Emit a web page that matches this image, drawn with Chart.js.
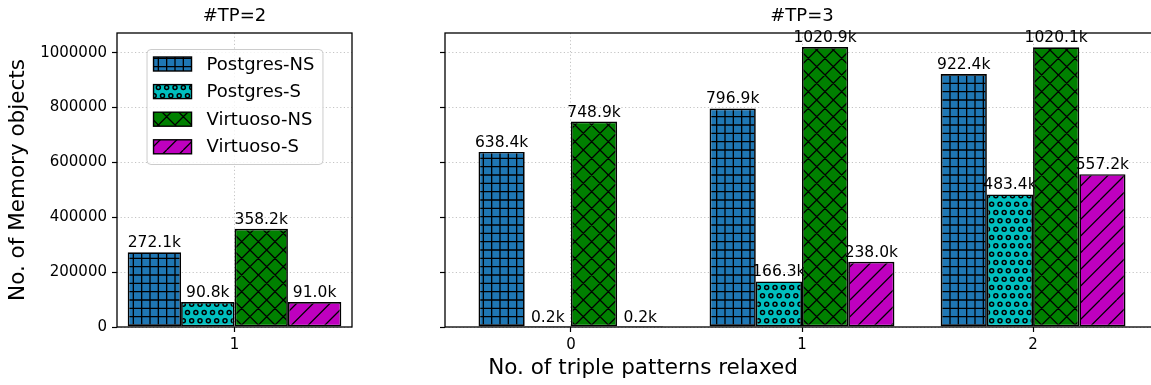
<!DOCTYPE html>
<html>
<head>
<meta charset="utf-8">
<script src="https://cdn.jsdelivr.net/npm/chart.js@4.4.1/dist/chart.umd.min.js"></script>
<style>
  body { margin: 0; background: #fff; overflow: hidden; }
  #wrap { position: relative; width: 1151px; height: 385px; overflow: hidden; }
  canvas { position: absolute; top: 0; }
  #xlab { position: absolute; left: 443px; width: 400px; top: 355px; text-align: center;
          font: 21.5px "DejaVu Sans"; line-height: 24px; color: #000; }
</style>
</head>
<body>
<div id="wrap">
  <canvas id="tp2" width="360" height="385" style="left:0"></canvas>
  <canvas id="tp3" width="765" height="385" style="left:400px"></canvas>
  <div id="xlab">No. of triple patterns relaxed</div>
</div>
<script>
// data
const seriesNames = ['Postgres-NS', 'Postgres-S', 'Virtuoso-NS', 'Virtuoso-S'];
const seriesColors = ['#1f77b4', '#00bfbf', '#008000', '#bf00bf'];
const seriesHatch = ['grid', 'dots', 'cross', 'slash'];

const tp2Groups = [1];
const tp2PgNS = [272100];
const tp2PgS = [90800];
const tp2VtNS = [358200];
const tp2VtS = [91000];

const tp3Groups = [0, 1, 2];
const tp3PgNS = [638400, 796900, 922400];
const tp3PgS = [200, 166300, 483400];
const tp3VtNS = [748900, 1020900, 1020100];
const tp3VtS = [200, 238000, 557200];

const yTicks = [0, 200000, 400000, 600000, 800000, 1000000];
const yMax = 1071900;

Chart.defaults.font.family = '"DejaVu Sans"';
Chart.defaults.color = '#000';

function makePattern(color, kind) {
  const s = 50;
  const c = document.createElement('canvas');
  c.width = s; c.height = s;
  const g = c.getContext('2d');
  g.fillStyle = color;
  g.fillRect(0, 0, s, s);
  g.strokeStyle = '#000';
  g.lineWidth = 1.3;
  g.beginPath();
  if (kind === 'grid') {
    const p = s / 6;
    for (let i = 0; i <= 6; i++) {
      g.moveTo(i * p, 0); g.lineTo(i * p, s);
      g.moveTo(0, i * p); g.lineTo(s, i * p);
    }
    g.stroke();
  } else if (kind === 'dots') {
    const p = s / 6;
    g.lineWidth = 1.5;
    for (let j = 0; j < 6; j++) {
      for (let i = -1; i <= 7; i++) {
        const cx = i * p + (j % 2 ? p / 2 : 0);
        const cy = j * p + p / 2;
        g.moveTo(cx + 2, cy);
        g.arc(cx, cy, 2, 0, Math.PI * 2);
      }
    }
    g.stroke();
  } else {
    const p = s / 3;
    for (let k = -4; k <= 8; k++) {
      const x0 = k * p;
      g.moveTo(x0, s); g.lineTo(x0 + s, 0);
      if (kind === 'cross') { g.moveTo(x0, 0); g.lineTo(x0 + s, s); }
    }
    g.stroke();
  }
  return g.createPattern(c, 'repeat');
}

const fills = seriesColors.map((col, i) => makePattern(col, seriesHatch[i]));

function drawLabels(chart, meta) {
  const ctx = chart.ctx;
  const data = chart.data.datasets[meta.index].data;
  ctx.save();
  ctx.font = '15.5px "DejaVu Sans"';
  ctx.fillStyle = '#000';
  ctx.textAlign = 'center';
  ctx.textBaseline = 'alphabetic';
  meta.data.forEach(function (bar, i) {
    ctx.fillText((data[i].y / 1000).toFixed(1) + 'k', bar.x, bar.y - 5);
  });
  ctx.restore();
}

function drawLegend(chart) {
  const ctx = chart.ctx, a = chart.chartArea;
  ctx.save();
  ctx.font = '18px "DejaVu Sans"';
  let tw = 0;
  seriesNames.forEach(n => { tw = Math.max(tw, ctx.measureText(n).width); });
  const w = 60 + tw + 8, h = 115;
  const x = (a.left + a.right) / 2 - w / 2, y = a.top + 16;
  ctx.beginPath();
  ctx.roundRect(x + 0.5, y + 0.5, w, h, 4);
  ctx.fillStyle = 'rgba(255,255,255,0.8)';
  ctx.fill();
  ctx.strokeStyle = '#cccccc';
  ctx.lineWidth = 1;
  ctx.stroke();
  seriesNames.forEach(function (n, i) {
    const cy = y + 15 + i * 27.6;
    ctx.fillStyle = fills[i];
    ctx.fillRect(x + 7, cy - 7, 38, 14);
    ctx.strokeStyle = '#000';
    ctx.lineWidth = 1.4;
    ctx.strokeRect(x + 7, cy - 7, 38, 14);
    ctx.fillStyle = '#000';
    ctx.textBaseline = 'middle';
    ctx.fillText(n, x + 60, cy + 1);
  });
  ctx.restore();
}

// draw series in order, each with its labels, so later bars cover earlier labels
function orderedBars(withLegend) {
  return {
    id: 'orderedBars',
    beforeDatasetsDraw(chart) {
      for (let i = 0; i < chart.data.datasets.length; i++) {
        const meta = chart.getDatasetMeta(i);
        meta.controller.draw();
        drawLabels(chart, meta);
      }
      if (withLegend) drawLegend(chart);
      return false;
    }
  };
}

const frame = {
  id: 'frame',
  afterDraw(chart) {
    const a = chart.chartArea, ctx = chart.ctx;
    ctx.save();
    ctx.strokeStyle = '#000';
    ctx.lineWidth = 1.3;
    ctx.strokeRect(a.left, a.top, a.right - a.left, a.bottom - a.top);
    ctx.restore();
  }
};

function makeChart(id, title, groups, series, opt) {
  const datasets = series.map(function (vals, i) {
    return {
      label: seriesNames[i],
      data: groups.map((g, j) => ({ x: g, y: vals[j] })),
      backgroundColor: fills[i],
      borderColor: '#000',
      borderWidth: 1.7,
      borderSkipped: false,
      categoryPercentage: opt.catPct,
      barPercentage: 1
    };
  });
  return new Chart(id, {
    type: 'bar',
    data: { datasets: datasets },
    plugins: [orderedBars(opt.legend), frame],
    options: {
      responsive: false,
      animation: false,
      layout: { padding: { left: 0, right: opt.padRight, top: 0, bottom: 0 } },
      plugins: {
        legend: { display: false },
        tooltip: { enabled: false },
        title: {
          display: true, text: title, fullSize: false, color: '#000',
          font: { size: 18, weight: 'normal' },
          padding: { top: 6, bottom: 5.4 }
        }
      },
      scales: {
        x: {
          type: 'linear',
          offset: false,
          min: opt.xMin,
          max: opt.xMax,
          afterBuildTicks: s => { s.ticks = groups.map(v => ({ value: v })); },
          afterFit: s => { s.height = 58; },
          ticks: { font: { size: 15 }, padding: 4, callback: v => String(v) },
          grid: { offset: false, color: '#c4c4c4', lineWidth: 1, tickColor: '#000', tickLength: 5, tickWidth: 1.2 },
          border: { display: false, dash: [1.2, 2.4] }
        },
        y: {
          min: 0,
          max: yMax,
          afterBuildTicks: s => { s.ticks = yTicks.map(v => ({ value: v })); },
          afterFit: s => { s.width = opt.yWidth; },
          ticks: { display: opt.yLabels, font: { size: 15 }, padding: 5, callback: v => String(v) },
          title: {
            display: opt.yLabels, text: 'No. of Memory objects', color: '#000',
            font: { size: 21.5 }, padding: { top: 6, bottom: 0 }
          },
          grid: { color: '#c4c4c4', lineWidth: 1, tickColor: '#000', tickLength: 5, tickWidth: 1.2 },
          border: { display: false, dash: [1.2, 2.4] }
        }
      }
    }
  });
}

makeChart('tp2', '#TP=2', tp2Groups, [tp2PgNS, tp2PgS, tp2VtNS, tp2VtS],
  { catPct: 0.8 / 0.88, xMin: 0.56, xMax: 1.44, yWidth: 117, yLabels: true, legend: true, padRight: 8 });

makeChart('tp3', '#TP=3', tp3Groups, [tp3PgNS, tp3PgS, tp3VtNS, tp3VtS],
  { catPct: 0.8, xMin: -0.545, xMax: 2.545, yWidth: 45, yLabels: false, legend: false, padRight: 6 });
</script>
</body>
</html>
